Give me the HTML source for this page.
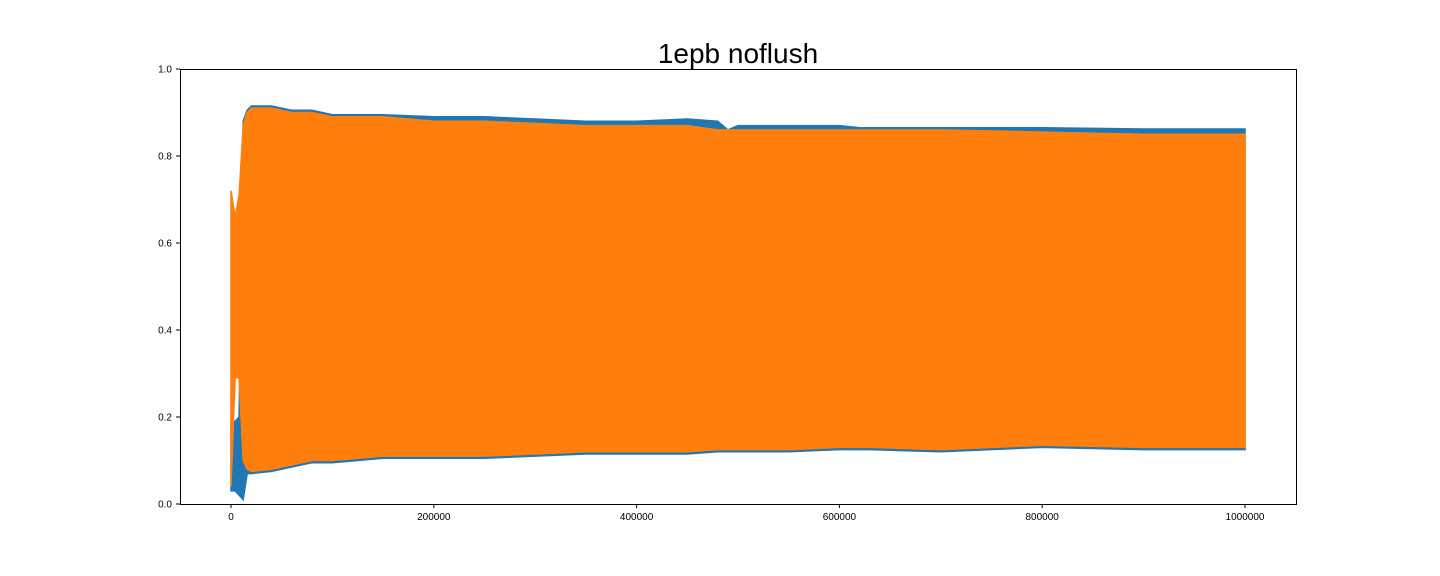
<!DOCTYPE html>
<html><head><meta charset="utf-8"><style>
body{margin:0;background:#fff;}
svg{display:block;font-family:"Liberation Sans","DejaVu Sans",sans-serif;}
</style></head><body>
<svg id="chart" width="1440" height="576" xmlns="http://www.w3.org/2000/svg">
<text x="738" y="63" font-size="28" text-anchor="middle" fill="#000">1epb noflush</text>
<g id="series"></g>
<rect x="180.5" y="69.5" width="1116" height="435" fill="none" stroke="#000" stroke-width="1"/>
<g id="axes"></g>
</svg>
<script>
const xs = [0,4000,8000,12000,16000,20000,40000,60000,80000,100000,150000,200000,250000,300000,350000,400000,450000,480000,490000,500000,550000,600000,620000,630000,700000,800000,900000,1000000];
const orangeUpper = [0.72,0.66,0.71,0.87,0.90,0.91,0.91,0.90,0.90,0.89,0.89,0.88,0.88,0.875,0.87,0.87,0.87,0.86,0.86,0.86,0.86,0.86,0.86,0.86,0.86,0.855,0.85,0.85];
const orangeLower = [0.04,0.29,0.29,0.10,0.08,0.075,0.08,0.09,0.10,0.10,0.11,0.11,0.11,0.115,0.12,0.12,0.12,0.125,0.125,0.125,0.125,0.13,0.13,0.13,0.125,0.135,0.13,0.13];
const blueUpper = [0.19,0.19,0.2,0.88,0.905,0.915,0.915,0.905,0.905,0.895,0.895,0.89,0.89,0.885,0.88,0.88,0.885,0.88,0.86,0.87,0.87,0.87,0.865,0.865,0.865,0.865,0.862,0.862];
const blueLower = [0.03,0.03,0.02,0.01,0.07,0.07,0.075,0.085,0.095,0.095,0.105,0.105,0.105,0.11,0.115,0.115,0.115,0.12,0.12,0.12,0.12,0.125,0.125,0.125,0.12,0.13,0.125,0.125];
const xTicks = [0,200000,400000,600000,800000,1000000];
const yTicks = [0.0,0.2,0.4,0.6,0.8,1.0];

const NS="http://www.w3.org/2000/svg";
const X = v => 231 + v*1014/1e6;
const Y = v => 504 - v*435;
function band(up, lo, color, name){
  let pts = xs.map((x,i)=>X(x).toFixed(1)+","+Y(up[i]).toFixed(1));
  for(let i=xs.length-1;i>=0;i--) pts.push(X(xs[i]).toFixed(1)+","+Y(lo[i]).toFixed(1));
  const p=document.createElementNS(NS,"polygon");
  p.setAttribute("points",pts.join(" "));
  p.setAttribute("fill",color);
  p.setAttribute("stroke",color);
  p.setAttribute("stroke-width","1.5");
  
  
  document.getElementById("series").appendChild(p);
}
band(blueUpper, blueLower, "#1f77b4", "series-blue");
band(orangeUpper, orangeLower, "#ff7f0e", "series-orange");

const ax=document.getElementById("axes");
xTicks.forEach(t=>{
  const l=document.createElementNS(NS,"line");
  l.setAttribute("x1",X(t));l.setAttribute("x2",X(t));l.setAttribute("y1",504);l.setAttribute("y2",508);l.setAttribute("stroke","#000");
  
  
  ax.appendChild(l);
  const tx=document.createElementNS(NS,"text");
  tx.setAttribute("x",X(t));tx.setAttribute("y",520);tx.setAttribute("font-size","10");tx.setAttribute("text-anchor","middle");
  tx.textContent=String(t);
  
  
  ax.appendChild(tx);
});
yTicks.forEach(t=>{
  const l=document.createElementNS(NS,"line");
  l.setAttribute("x1",176);l.setAttribute("x2",180);l.setAttribute("y1",Y(t));l.setAttribute("y2",Y(t));l.setAttribute("stroke","#000");
  
  
  ax.appendChild(l);
  const tx=document.createElementNS(NS,"text");
  tx.setAttribute("x",172);tx.setAttribute("y",Y(t)+3.5);tx.setAttribute("font-size","10");tx.setAttribute("text-anchor","end");
  tx.textContent=t.toFixed(1);
  
  
  ax.appendChild(tx);
});
</script>
</body></html>
